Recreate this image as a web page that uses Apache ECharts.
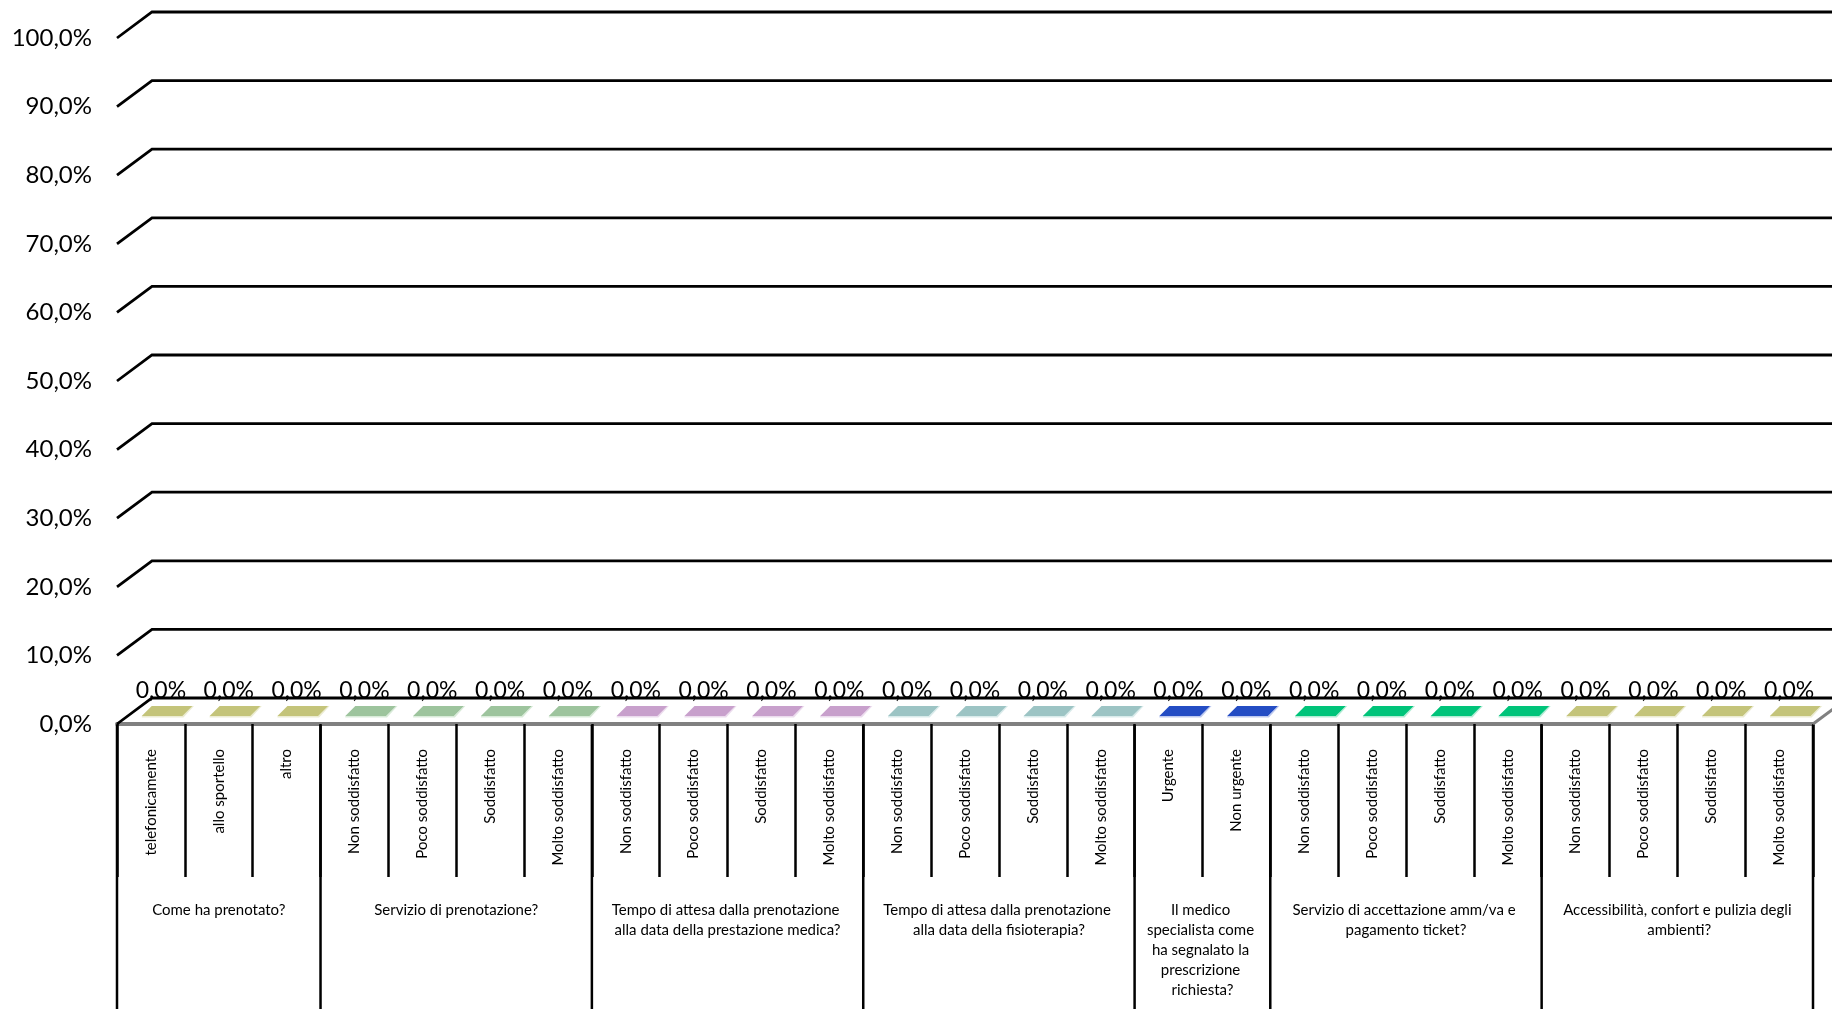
<!DOCTYPE html>
<html>
<head>
<meta charset="utf-8">
<script src="https://cdn.jsdelivr.net/npm/echarts@6/dist/echarts.min.js"></script>
<style>
html,body{margin:0;padding:0;background:#fff;}
#chart{width:1832px;height:1009px;}
</style>
</head>
<body>
<div id="chart"></div>
<script>
// ---- data ----
const categories = [
  'telefonicamente','allo sportello','altro',
  'Non soddisfatto','Poco soddisfatto','Soddisfatto','Molto soddisfatto',
  'Non soddisfatto','Poco soddisfatto','Soddisfatto','Molto soddisfatto',
  'Non soddisfatto','Poco soddisfatto','Soddisfatto','Molto soddisfatto',
  'Urgente','Non urgente',
  'Non soddisfatto','Poco soddisfatto','Soddisfatto','Molto soddisfatto',
  'Non soddisfatto','Poco soddisfatto','Soddisfatto','Molto soddisfatto'
];
const categoryGroup = [0,0,0, 1,1,1,1, 2,2,2,2, 3,3,3,3, 4,4, 5,5,5,5, 6,6,6,6];
const groupLabels = [
  'Come ha prenotato?',
  'Servizio di prenotazione?',
  'Tempo di attesa dalla prenotazione alla data della prestazione medica?',
  'Tempo di attesa dalla prenotazione alla data della fisioterapia?',
  'Il medico specialista come ha segnalato la prescrizione richiesta?',
  'Servizio di accettazione amm/va e pagamento ticket?',
  'Accessibilità, confort e pulizia degli ambienti?'
];
const values = [0,0,0, 0,0,0,0, 0,0,0,0, 0,0,0,0, 0,0, 0,0,0,0, 0,0,0,0];
const yTickValues = [0,0.1,0.2,0.3,0.4,0.5,0.6,0.7,0.8,0.9,1.0];

// ---- style ----
const groupColors = ['#C4C47A','#9DC49D','#C8A0CC','#9CC4C4','#244DC4','#00C47A','#C4C47A'];
const groupEdge   = ['#ECECD2','#D9EBD9','#ECDCEE','#D9EBEB','#BDC9EF','#B3ECD5','#ECECD2'];
const FONT = 'Lato, "Open Sans", sans-serif';
const DX = 35, DY = 26;

function pct(v){ return (v*100).toFixed(1).replace('.', ',') + '%'; }

// group spans
const groupSpans = groupLabels.map((g, gi) => {
  const idx = categoryGroup.map((c,i)=>c===gi?i:-1).filter(i=>i>=0);
  return [idx[0], 0, idx[idx.length-1], gi];
});

const chart = echarts.init(document.getElementById('chart'));
chart.setOption({
  animation: false,
  backgroundColor: '#fff',
  grid: { left: 117, right: 19, top: 38, bottom: 285, containLabel: false, outerBoundsMode: 'none' },
  xAxis: {
    type: 'category',
    data: categories,
    axisLine: { show: true, lineStyle: { color: '#808080', width: 4 } },
    axisTick: { show: true, interval: 0, length: 153, lineStyle: { color: '#000', width: 2.5 } },
    axisLabel: { interval: 0, rotate: 90, margin: 25, fontSize: 15, fontFamily: FONT, color: '#000' },
    splitLine: { show: false }
  },
  yAxis: {
    type: 'value', min: 0, max: 1, interval: 0.1,
    axisLine: { show: false }, axisTick: { show: false }, splitLine: { show: false },
    axisLabel: { formatter: pct, margin: 25, fontSize: 24, fontFamily: FONT, color: '#000', padding: [3, 0, 0, 0] }
  },
  series: [
    { // walls: side slant + back wall gridlines
      type: 'custom', clip: false, silent: true, z: 1,
      data: yTickValues.map(v => [0, v]),
      encode: { x: 0, y: 1 },
      renderItem: function (params, api) {
        const v = api.value(1);
        const band = api.size([1, 0])[0];
        const p = api.coord([0, v]);
        const left = p[0] - band / 2;
        const right = api.coord([categories.length - 1, 0])[0] + band / 2;
        const children = [{
          type: 'polyline',
          shape: { points: [[left, p[1]], [left + DX, p[1] - DY], [api.getWidth() + 20, p[1] - DY]] },
          style: { stroke: '#000', lineWidth: 2.8, fill: null }
        }];
        if (v === 0) {
          children.push({
            type: 'line',
            shape: { x1: right, y1: p[1], x2: right + DX, y2: p[1] - DY },
            style: { stroke: '#808080', lineWidth: 3 }
          });
        }
        return { type: 'group', children: children };
      }
    },
    { // zero-height 3D columns (top faces) + value labels
      type: 'custom', clip: false, silent: true, z: 3,
      data: values.map((v, i) => [i, v]),
      encode: { x: 0, y: 1 },
      renderItem: function (params, api) {
        const i = api.value(0), v = api.value(1);
        const band = api.size([1, 0])[0];
        const top = api.coord([i, v]);
        const base = api.coord([i, 0]);
        const g = categoryGroup[i];
        const w = band * 0.6;
        const fl = top[0] - band * 0.135;
        const yf = top[1] - 8, yb = top[1] - 18, sh = 10;
        const yf0 = base[1] - 8;
        return {
          type: 'group',
          children: [
            { type: 'polygon', shape: { points: [[fl, yf0 + 1.5], [fl + w + 1, yf0 + 1.5], [fl + w + sh + 1.5, yb], [fl + w + sh, yb], [fl + w, yf], [fl, yf]] },
              style: { fill: groupEdge[g] } },
            { type: 'rect', shape: { x: fl, y: yf, width: w, height: Math.max(0, yf0 - yf) },
              style: { fill: groupEdge[g] } },
            { type: 'polygon', shape: { points: [[fl, yf], [fl + w, yf], [fl + w + sh, yb], [fl + sh, yb]] },
              style: { fill: groupColors[g] } },
            { type: 'text', x: top[0] + 10, y: yb - 15,
              style: { text: pct(v), fontSize: 23, fontFamily: FONT, fill: '#000', align: 'center', verticalAlign: 'middle' } }
          ]
        };
      }
    },
    { // group dividers and group labels
      type: 'custom', clip: false, silent: true, z: 2,
      data: groupSpans,
      encode: { x: 0, y: 1 },
      renderItem: function (params, api) {
        const s = api.value(0), e = api.value(2), gi = api.value(3);
        const band = api.size([1, 0])[0];
        const p0 = api.coord([s, 0]), p1 = api.coord([e, 0]);
        const left = p0[0] - band / 2, right = p1[0] + band / 2;
        const H = api.getHeight();
        const children = [
          { type: 'line', shape: { x1: left, y1: p0[1] + 1, x2: left, y2: H + 5 }, style: { stroke: '#000', lineWidth: 2.5 } },
          { type: 'text', x: (left + right) / 2, y: p0[1] + 176,
            style: { text: groupLabels[gi], width: (right - left) * 0.88, overflow: 'break', lineHeight: 20,
                     fontSize: 15, fontFamily: FONT, fill: '#000', align: 'center', verticalAlign: 'top' } }
        ];
        if (gi === groupLabels.length - 1) {
          children.push({ type: 'line', shape: { x1: right, y1: p0[1] + 1, x2: right, y2: H + 5 }, style: { stroke: '#000', lineWidth: 2.5 } });
        }
        return { type: 'group', children: children };
      }
    }
  ]
});
</script>
</body>
</html>
